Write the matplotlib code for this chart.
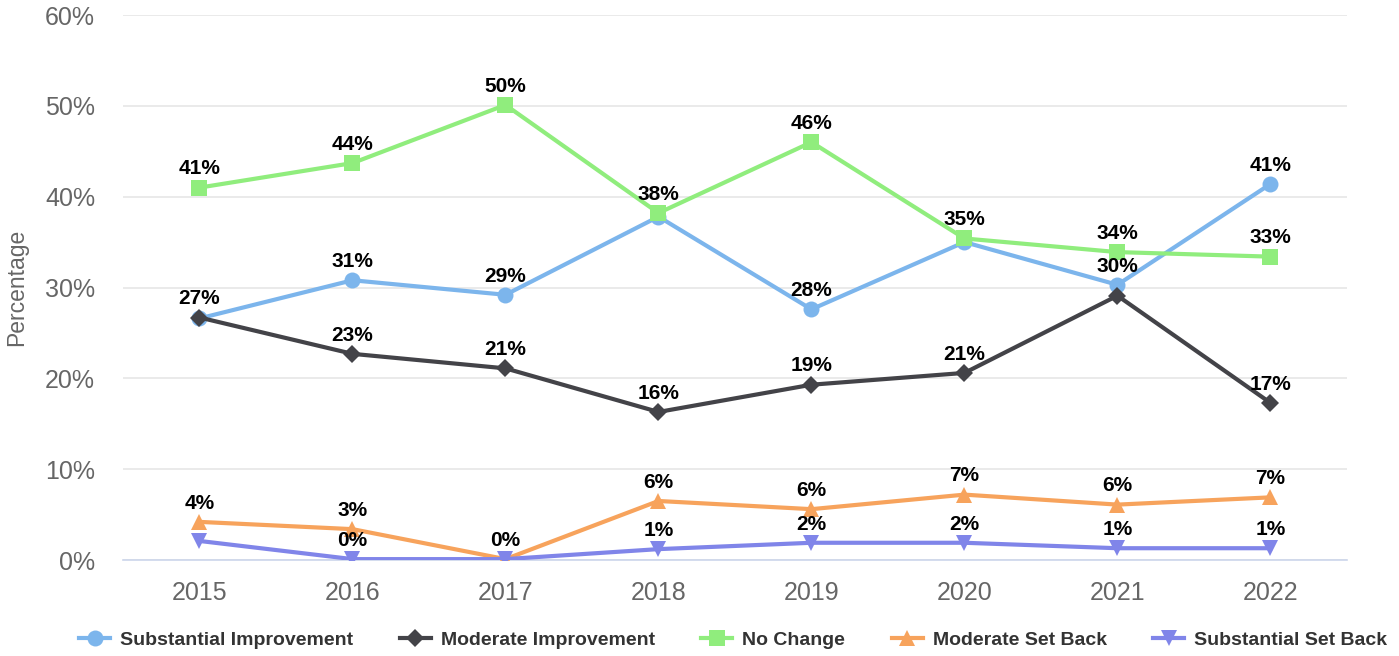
import matplotlib
matplotlib.use("Agg")
import matplotlib.pyplot as plt
from matplotlib.lines import Line2D

years = ["2015", "2016", "2017", "2018", "2019", "2020", "2021", "2022"]
substantial_improvement = [26.6, 30.8, 29.2, 37.8, 27.6, 35.0, 30.3, 41.4]
moderate_improvement = [26.7, 22.7, 21.1, 16.3, 19.3, 20.6, 29.1, 17.3]
no_change = [41.0, 43.7, 50.1, 38.2, 46.0, 35.4, 33.9, 33.4]
moderate_set_back = [4.2, 3.4, 0.1, 6.5, 5.6, 7.2, 6.1, 6.9]
substantial_set_back = [2.1, 0.1, 0.1, 1.2, 1.9, 1.9, 1.3, 1.3]

series_names = ["Substantial Improvement", "Moderate Improvement", "No Change",
                "Moderate Set Back", "Substantial Set Back"]
series_values = [substantial_improvement, moderate_improvement, no_change,
                 moderate_set_back, substantial_set_back]
colors = ["#7cb5ec", "#434348", "#90ed7d", "#f7a35c", "#8085e9"]
markers = ["o", "D", "s", "^", "v"]
msizes = [11.5, 9, 11, 11, 11]
# labels hidden because of overlap (as in the reference)
hidden_labels = [{0, 3, 5}, {6}, set(), {2}, {0}]
y_ticks = [0, 10, 20, 30, 40, 50, 60]

plt.rcParams['font.family'] = ['Liberation Sans', 'DejaVu Sans']

fig = plt.figure(figsize=(13.99, 6.56), dpi=100)
ax = fig.add_axes([0.0879, 0.1463, 0.8749, 0.8308])

x = list(range(len(years)))
for i, (name, vals) in enumerate(zip(series_names, series_values)):
    ax.plot(x, vals, color=colors[i], lw=3, marker=markers[i], ms=msizes[i],
            markeredgewidth=0, zorder=3 + i, label=name)
    for j, v in enumerate(vals):
        if j in hidden_labels[i]:
            continue
        ax.annotate(f"{round(v):.0f}%", (j, v), xytext=(0, 13.5), textcoords="offset points",
                    ha="center", va="center", fontsize=15, fontweight="bold",
                    color="#000000", zorder=20)

ax.set_xlim(-0.5, len(years) - 0.5)
ax.set_ylim(0, 60)
ax.set_yticks(y_ticks)
ax.set_yticklabels([f"{t}%" for t in y_ticks])
ax.set_xticks(x)
ax.set_xticklabels(years)
ax.tick_params(axis="both", length=0, labelsize=18, colors="#666666")
ax.tick_params(axis="y", pad=20)
ax.tick_params(axis="x", pad=15)
ax.grid(axis="y", color="#e6e6e6", lw=1.2, zorder=0)
ax.set_axisbelow(True)
for s in ["top", "right", "left"]:
    ax.spines[s].set_visible(False)
ax.spines["bottom"].set_color("#ccd6eb")
ax.spines["bottom"].set_linewidth(1.2)
ax.set_ylabel("Percentage", fontsize=16.5, color="#666666")
ax.yaxis.set_label_coords(-0.0776, 0.5)

handles = [Line2D([0], [0], color=colors[i], lw=3, marker=markers[i], ms=msizes[i],
                  markeredgewidth=0) for i in range(5)]
leg = fig.legend(handles, series_names, loc="center", bbox_to_anchor=(0.524, 0.024),
                 ncol=5, frameon=False, handlelength=1.6, handletextpad=0.5,
                 columnspacing=2.4, prop={"size": 14, "weight": "bold"})
for t in leg.get_texts():
    t.set_color("#333333")

fig.savefig("out.png", dpi=100)
